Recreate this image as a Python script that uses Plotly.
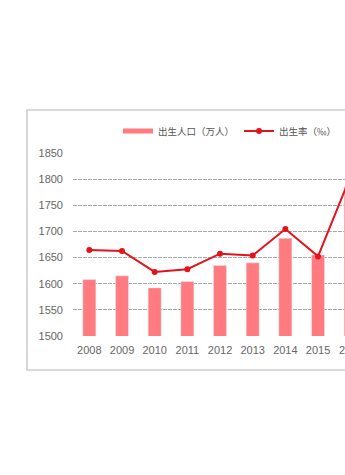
import plotly.graph_objects as go

years = ["2008", "2009", "2010", "2011", "2012", "2013", "2014", "2015", "2016"]
births = [1608, 1615, 1592, 1604, 1635, 1640, 1687, 1655, 1786]   # 出生人口（万人）
rates = [12.14, 12.13, 11.90, 11.93, 12.10, 12.08, 12.37, 12.07, 12.95]  # 出生率（‰）
y_ticks = [1500, 1550, 1600, 1650, 1700, 1750, 1800, 1850]

W, H = 345, 475
ML, MT, MB = 73, 153, 139
STEP = 32.67
x_hi = (W - ML) / STEP - 0.5
x_lo = -0.5

bar_color = "#FF7B7F"
line_color = "#E3131B"
font_cjk = "Noto Sans CJK SC"
grey = "#666666"

fig = go.Figure()
fig.add_trace(go.Bar(x=years, y=births, marker_color=bar_color, width=0.4,
                     showlegend=False, name="出生人口（万人）"))
# legend stand-in for the bar series (drawn as thick line swatch)
fig.add_trace(go.Scatter(x=[None], y=[None], mode="lines", name="出生人口（万人）",
                         line=dict(color=bar_color, width=5)))
fig.add_trace(go.Scatter(x=years, y=rates, mode="lines+markers", name="出生率（‰）",
                         yaxis="y2", line=dict(color=line_color, width=2),
                         marker=dict(color=line_color, size=6)))

pw = W - ML
ph = H - MT - MB
fig.update_layout(
    width=W, height=H,
    margin=dict(l=ML, r=0, t=MT, b=MB, pad=0, autoexpand=False),
    paper_bgcolor="white", plot_bgcolor="white",
    font=dict(family=font_cjk, size=11, color=grey),
    xaxis=dict(type="category", range=[x_lo, x_hi], showgrid=False,
               showline=False, ticks="", tickfont=dict(family="Liberation Sans", size=11, color=grey),
               ticklabelstandoff=6),
    yaxis=dict(range=[1500, 1850], tickvals=y_ticks, showgrid=True,
               gridcolor="#a8a8a8", griddash="4px,1px", gridwidth=1, zeroline=False,
               showline=False, ticks="", ticklabelstandoff=9,
               tickfont=dict(family="Liberation Sans", size=11, color=grey)),
    yaxis2=dict(range=[11.2, 13.2], overlaying="y", visible=False),
    legend=dict(orientation="h", x=(230 - ML) / pw, xanchor="center",
                y=1 + (MT - 131) / ph, yanchor="middle",
                font=dict(family=font_cjk, size=9.5, color="#555555"),
                bgcolor="rgba(0,0,0,0)", itemwidth=30),
    shapes=[dict(type="rect", xref="paper", yref="paper",
                 x0=(27 - ML) / pw, x1=1.2,
                 y0=-(370 - (H - MB)) / ph, y1=1 + (MT - 110) / ph,
                 line=dict(color="#cccccc", width=1.5), layer="below")],
    annotations=[dict(xref="paper", yref="paper",
                      x=(len(years) - 1 - x_lo) / (x_hi - x_lo), y=0,
                      yanchor="top", xanchor="center", yshift=-6, showarrow=False,
                      text=years[-1], font=dict(family="Liberation Sans", size=11, color=grey))],
)

fig.write_html("out.html")
